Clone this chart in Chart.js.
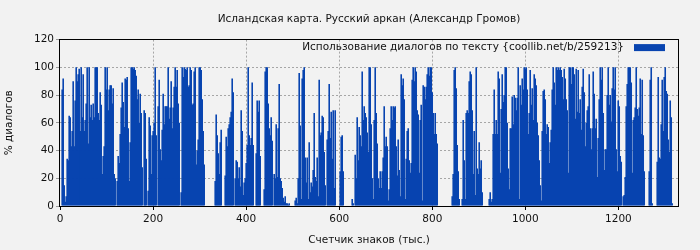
<!DOCTYPE html>
<html><head><meta charset="utf-8">
<script src="https://cdn.jsdelivr.net/npm/chart.js@4"></script>
<style>html,body{margin:0;padding:0;background:#f2f2f2;overflow:hidden}#wrap{width:700px;height:250px}</style>
</head><body><div id="wrap"><canvas id="c" width="700" height="250"></canvas></div>
<script>
const chartTitle = "Исландская карта. Русский аркан (Александр Громов)";
const seriesLabel = "Использование диалогов по тексту {coollib.net/b/259213}";
const xAxisTitle = "Счетчик знаков (тыс.)";
const yAxisTitle = "% диалогов";
const xTickValues = [0, 200, 400, 600, 800, 1000, 1200];
const yTickValues = [0, 20, 40, 60, 80, 100, 120];
const counterMin = 0;
const counterMax = 1328;
const counterStart = 4.7;   // thousands of characters at first sample
const counterStep = 2.149;  // thousands of characters between samples
const dialogShare = [
84,92,15,3,7,34,33,65,64,43,54,90,43,76,100,90,95,99,54,100,64,95,54,62,74,100,45,100,64,73,62,74,64,100,100,100,67,62,82,73,23,36,43,100,84,100,69,84,87,87,
74,85,23,20,0,18,36,31,52,71,89,75,57,92,91,93,56,18,46,100,100,99,100,98,94,77,84,60,81,67,28,0,69,67,34,0,11,64,58,23,51,54,60,100,51,0,72,91,41,33,55,81,59,72,72,
72,100,63,71,90,56,71,86,100,86,98,74,60,0,10,100,93,100,99,98,100,86,87,100,98,73,74,97,100,30,40,48,100,100,98,77,54,30,0,0,0,0,0,0,0,0,0,0,18,66,51,38,23,46,55,
0,0,0,22,50,43,56,59,64,68,92,82,0,20,33,32,20,28,14,69,54,8,17,20,31,44,100,51,44,49,89,44,0,0,38,76,68,76,36,0,0,0,12,97,100,100,74,56,51,64,47,0,23,20,59,
21,56,88,20,18,13,6,3,7,2,2,1,2,0,0,0,0,0,4,6,2,20,96,58,5,92,98,100,35,17,35,5,46,10,17,14,26,67,21,18,35,7,91,51,53,65,64,39,15,0,48,54,88,49,68,
34,69,13,69,0,0,0,0,25,50,51,25,0,0,0,0,0,0,0,0,5,2,0,37,20,64,33,57,51,43,97,62,72,67,64,53,39,100,100,59,20,5,62,100,67,45,20,13,25,13,25,35,72,43,50,
43,4,12,56,72,62,72,71,72,43,22,48,26,7,95,87,92,77,5,34,54,56,33,24,31,91,100,90,100,97,69,66,24,62,73,4,87,86,77,86,95,100,94,100,100,82,67,52,67,52,45,0,0,0,0,
0,0,0,0,0,0,0,0,0,0,7,23,98,100,85,44,25,5,0,0,5,62,33,5,67,69,67,90,97,95,69,23,54,8,100,27,23,46,27,33,10,0,0,0,0,0,0,5,10,3,5,52,84,52,62,
52,97,92,24,70,95,75,80,100,100,60,27,12,56,56,79,59,80,78,69,78,100,5,87,73,92,84,100,99,100,84,52,67,98,73,85,62,95,92,87,60,51,33,15,4,54,83,84,77,52,59,57,31,46,55,
84,100,89,73,100,98,100,98,100,98,93,77,99,92,77,69,24,100,100,88,100,100,95,63,99,68,98,67,77,55,86,99,82,43,60,69,72,95,56,41,56,97,81,56,63,21,49,77,100,91,100,67,26,41,41,
80,100,73,80,61,85,100,84,100,41,25,76,72,36,32,0,7,8,21,72,88,100,100,100,89,24,62,64,71,100,70,65,71,
92,52,91,51,25,0,0,0,0,25,91,100,2,0,0,0,0,32,93,35,34,59,91,54,93,100,83,81,48,39,76,64,2
];

const barColor = '#0844b0';
const gridColor = '#a6a6a6';
const fontSize = 10.5;

Chart.defaults.font.family = '"DejaVu Sans", sans-serif';
Chart.defaults.font.size = fontSize;
Chart.defaults.color = '#111';

const framePlugin = {
  id: 'frame',
  beforeDraw(chart) {
    const ctx = chart.ctx;
    ctx.save();
    ctx.fillStyle = '#f2f2f2';
    ctx.fillRect(0, 0, chart.width, chart.height);
    ctx.restore();
  },
  afterDraw(chart) {
    const {ctx, chartArea: a} = chart;
    ctx.save();
    ctx.strokeStyle = '#000';
    ctx.lineWidth = 1;
    ctx.strokeRect(Math.round(a.left) - 0.5, Math.round(a.top) - 0.5, Math.round(a.right - a.left) + 1, Math.round(a.bottom - a.top) + 1);
    // legend inside plot, top right
    ctx.font = fontSize + 'px "DejaVu Sans", sans-serif';
    ctx.fillStyle = '#111';
    ctx.textAlign = 'right';
    ctx.textBaseline = 'middle';
    ctx.fillText(seriesLabel, a.right - 54, a.top + 8);
    ctx.fillStyle = barColor;
    ctx.fillRect(a.right - 44, a.top + 4.5, 31, 7);
    ctx.restore();
  }
};

new Chart(document.getElementById('c'), {
  type: 'bar',
  data: {
    datasets: [{
      label: seriesLabel,
      data: dialogShare.map((v, i) => ({x: counterStart + i * counterStep, y: v})),
      backgroundColor: barColor,
      borderWidth: 0,
      barPercentage: 1.6,
      categoryPercentage: 1
    }]
  },
  options: {
    responsive: false,
    animation: false,
    devicePixelRatio: 1,
    layout: {padding: {left: 0, right: 22, top: 0, bottom: 0}},
    plugins: {
      legend: {display: false},
      tooltip: {enabled: false},
      title: {display: true, fullSize: false, text: chartTitle, color: '#111', font: {size: fontSize, weight: 'normal'}, padding: {top: 13, bottom: 14}}
    },
    scales: {
      x: {
        type: 'linear',
        min: counterMin,
        max: counterMax,
        offset: false,
        afterBuildTicks: s => { s.ticks = xTickValues.map(v => ({value: v})); },
        afterFit: s => { s.height = 44; },
        ticks: {padding: 3, maxRotation: 0, color: '#111', callback: v => String(v)},
        grid: {offset: false, color: c => (c.tick && c.tick.value === 0) ? 'rgba(0,0,0,0)' : gridColor, tickColor: '#000', tickLength: 4, lineWidth: 1},
        border: {display: false, dash: [2, 2]},
        title: {display: true, text: xAxisTitle, color: '#111', font: {size: fontSize}, padding: {top: 0, bottom: 3}}
      },
      y: {
        min: 0,
        max: 120,
        afterBuildTicks: s => { s.ticks = yTickValues.map(v => ({value: v})); },
        afterFit: s => { s.width = 60; },
        ticks: {padding: 2, color: '#111', callback: v => String(v)},
        grid: {color: c => (c.tick && (c.tick.value === 0 || c.tick.value === 120)) ? 'rgba(0,0,0,0)' : gridColor, tickColor: '#999', tickLength: 4, lineWidth: 1},
        border: {display: false, dash: [2, 2]},
        title: {display: true, text: yAxisTitle, color: '#111', font: {size: fontSize}, padding: {top: 3, bottom: 0}}
      }
    }
  },
  plugins: [framePlugin]
});
</script>
</body></html>
